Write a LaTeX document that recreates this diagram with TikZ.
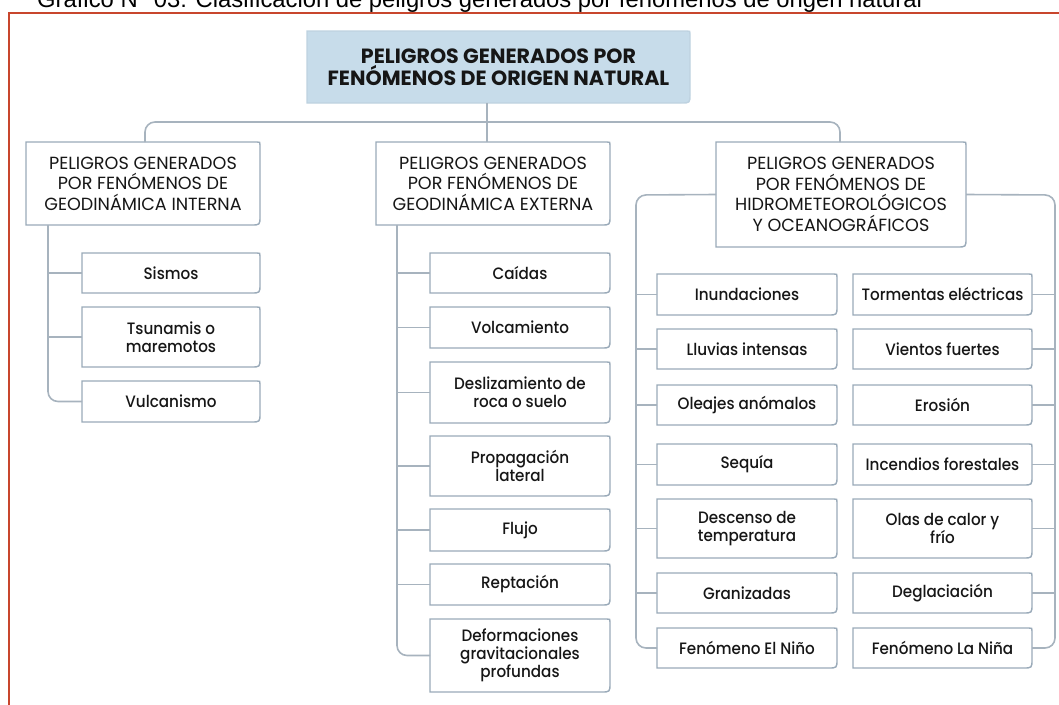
\documentclass[tikz,border=0pt]{standalone}
\usepackage{fontspec}
\setmainfont{Poppins}
\newfontfamily\medfont{Poppins Medium}[FakeStretch=0.92]
\newfontfamily\titlefont{Liberation Sans}
\usetikzlibrary{calc}
\definecolor{framec}{HTML}{C8462D}
\definecolor{bxc}{HTML}{9AAAB9}
\definecolor{cnc}{HTML}{A7B3BE}
\definecolor{topfill}{HTML}{C7DCEA}
\definecolor{txt}{HTML}{161616}
\tikzset{
 bxn/.style={inner sep=0pt, outer sep=0pt, align=center, text=txt},
 hdr/.style={bxn, font=\fontsize{17.6}{20.5}\selectfont},
 itm/.style={bxn, font=\medfont\fontsize{16.5}{18}\selectfont},
 topt/.style={bxn, font=\fontsize{20.6}{21.7}\selectfont\bfseries},
 bx/.style={draw=bxc, line width=1.4pt, fill=white},
 cn/.style={draw=cnc, line width=1.6pt, rounded corners=10pt},
 cnl/.style={draw=cnc, line width=1.6pt},
}
% #1 border options, #2 name, #3 x1, #4 y1, #5 x2, #6 y2, #7 node style, #8 text
\newcommand\pb[8][]{%
 \draw[bx,#1] ({#5-3},#4) -- (#3,#4) -- (#3,#6) -- ({#5-9},#6) .. controls (#5,#6) .. (#5,{#6-9}) -- (#5,{#4+3}) .. controls (#5,#4) .. ({#5-3},#4) -- cycle;
 \node[#7, minimum width={#5-#3}, minimum height={#6-#4}] (#2) at ({(#3+#5)/2},{(#4+#6)/2}) {#8};}
\begin{document}
\begin{tikzpicture}[x=1pt,y=-1pt]
\useasboundingbox (0,0) rectangle (1059,704);
\clip (0,0) rectangle (1059,704);
\node[anchor=base west, inner sep=0pt, text=black, font=\titlefont\fontsize{23.8}{26}\selectfont] (title) at (37,7) {Gráfico N° 03: Clasificación de peligros generados por fenómenos de origen natural};
\draw[framec, line width=2pt] (9,706) -- (9,12.5) -- (1061,12.5);

% top
\pb[fill=topfill, draw=topfill!80!bxc]{T}{307}{31}{690}{103}{topt}{PELIGROS GENERADOS POR\\FENÓMENOS DE ORIGEN NATURAL}
% headers
\pb{H1}{26}{142}{260}{225}{hdr}{PELIGROS GENERADOS\\POR FENÓMENOS DE\\GEODINÁMICA INTERNA}
\pb{H2}{376}{142}{610}{225}{hdr}{PELIGROS GENERADOS\\POR FENÓMENOS DE\\GEODINÁMICA EXTERNA}
\pb{H3}{716}{142}{966}{247}{hdr}{PELIGROS GENERADOS\\POR FENÓMENOS DE\\HIDROMETEOROLÓGICOS\\Y OCEANOGRÁFICOS}
% left column
\pb{C1}{82}{253}{260}{293}{itm}{Sismos}
\pb{C2}{82}{307}{260}{367}{itm}{Tsunamis o\\maremotos}
\pb{C3}{82}{381}{260}{422}{itm}{Vulcanismo}
% middle column
\pb{M1}{430}{253}{610}{293}{itm}{Caídas}
\pb{M2}{430}{307}{610}{348}{itm}{Volcamiento}
\pb{M3}{430}{362}{610}{423}{itm}{Deslizamiento de\\roca o suelo}
\pb{M4}{430}{436}{610}{496}{itm}{Propagación\\lateral}
\pb{M5}{430}{509}{610}{551}{itm}{Flujo}
\pb{M6}{430}{564}{610}{605}{itm}{Reptación}
\pb{M7}{430}{619}{610}{692}{itm}{Deformaciones\\gravitacionales\\profundas}
% right column, left
\pb{L1}{657}{274}{837}{315}{itm}{Inundaciones}
\pb{L2}{657}{329}{837}{369}{itm}{Lluvias intensas}
\pb{L3}{657}{385}{837}{425}{itm}{Oleajes anómalos}
\pb{L4}{657}{444}{837}{485}{itm}{Sequía}
\pb{L5}{657}{499}{837}{558}{itm}{Descenso de\\temperatura}
\pb{L6}{657}{573}{837}{613}{itm}{Granizadas}
\pb{L7}{657}{628}{837}{668}{itm}{Fenómeno El Niño}
% right column, right
\pb{R1}{853}{274}{1032}{315}{itm}{Tormentas eléctricas}
\pb{R2}{853}{329}{1032}{369}{itm}{Vientos fuertes}
\pb{R3}{853}{385}{1032}{425}{itm}{Erosión}
\pb{R4}{853}{444}{1032}{485}{itm}{Incendios forestales}
\pb{R5}{853}{499}{1032}{558}{itm}{Olas de calor y\\frío}
\pb{R6}{853}{573}{1032}{613}{itm}{Deglaciación}
\pb{R7}{853}{628}{1032}{668}{itm}{Fenómeno La Niña}

% connectors
\coordinate (bus) at (487,122);
\coordinate (bl) at (145,122);
\coordinate (br) at (840,122);
\draw[cnl] (T.south -| bus) -- (H2.north -| bus);
\draw[cn] (H1.north -| bl) -- (bl) -- (br) -- (H3.north -| br);

\coordinate (sp1) at (48,225);
\draw[cn] (H1.south -| sp1) |- (C3.west);
\foreach \c in {C1,C2} \draw[cnl] (\c.west) -- (\c.west -| sp1);

\coordinate (sp2) at (397,225);
\draw[cn] (H2.south -| sp2) |- (M7.west);
\foreach \c in {M1,M2,M3,M4,M5,M6} \draw[cnl] (\c.west) -- (\c.west -| sp2);

\coordinate (sp3) at (636,195);
\coordinate (sp4) at (1055,195);
\draw[cn] (H3.west) -- (sp3) |- (L7.west);
\draw[cn] (H3.east) -- (sp4) |- (R7.east);
\foreach \c in {L1,L2,L3,L4,L5,L6} \draw[cnl] (\c.west) -- (\c.west -| sp3);
\foreach \c in {R1,R2,R3,R4,R5,R6} \draw[cnl] (\c.east) -- (\c.east -| sp4);
\end{tikzpicture}
\end{document}
